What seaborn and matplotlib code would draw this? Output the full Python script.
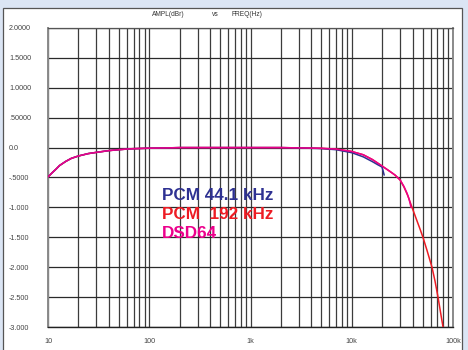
import numpy as np
import pandas as pd
import matplotlib
matplotlib.use("Agg")
import matplotlib.pyplot as plt
import seaborn as sns
from matplotlib.patches import Rectangle
from matplotlib.ticker import FixedLocator, NullFormatter

# ---- data ----
freq_low = [10, 11, 12, 13, 15, 17, 20, 25, 30, 40, 50, 65, 80, 100, 150, 200,
            500, 1000, 2000, 3000, 5000, 7000, 10000, 13000, 16000]
ampl_low = [-0.49, -0.42, -0.36, -0.30, -0.23, -0.18, -0.14, -0.10, -0.08, -0.05,
            -0.035, -0.02, -0.015, -0.01, -0.005, 0.0,
            0.0, 0.0, 0.0, -0.005, -0.012, -0.025, -0.065, -0.12, -0.20]

freq_441 = [10, 11, 12, 13, 15, 17, 20, 25, 30, 40, 50, 65, 80, 100, 150, 200,
            500, 1000, 2000, 3000, 5000, 7000, 10000, 13000, 16000, 18000,
            19900, 20400, 20900]
ampl_441 = [-0.49, -0.42, -0.36, -0.30, -0.23, -0.18, -0.14, -0.10, -0.08, -0.05,
            -0.035, -0.02, -0.015, -0.01, -0.005, 0.0,
            0.0, 0.0, 0.0, -0.006, -0.016, -0.035, -0.085, -0.155, -0.235,
            -0.285, -0.325, -0.39, -0.46]

freq_dsd = freq_low + [20000, 23900, 26800, 30000, 32800, 35100, 36800, 38500]
ampl_dsd = ampl_low + [-0.31, -0.40, -0.46, -0.54, -0.65, -0.76, -0.86, -1.0]

freq_192 = freq_low + [20000, 23900, 26800, 30000, 32800, 35900, 39400, 43100,
                       47200, 50500, 55400, 62000, 66400, 71100, 76100, 79700]
ampl_192 = ampl_low + [-0.31, -0.40, -0.46, -0.54, -0.66, -0.81, -1.0, -1.18,
                       -1.36, -1.5, -1.72, -2.0, -2.23, -2.5, -2.8, -3.0]

y_ticks = [2.0, 1.5, 1.0, 0.5, 0.0, -0.5, -1.0, -1.5, -2.0, -2.5, -3.0]
y_labels = ["2.0000", "1.5000", "1.0000", ".50000", "0.0", "-.5000",
            "-1.000", "-1.500", "-2.000", "-2.500", "-3.000"]
x_ticks = [10, 100, 1000, 10000, 100000]
x_labels = ["10", "100", "1k", "10k", "100k"]

legend_labels = ["PCM 44.1 kHz", "PCM  192 kHz", "DSD64"]
c_blue, c_red, c_mag = "#2e3192", "#ed1c24", "#ec008c"

# ---- figure ----
sns.set_style("white")
plt.rcParams["font.family"] = ["Liberation Sans", "DejaVu Sans"]

W, H = 468, 350
fig = plt.figure(figsize=(W / 100, H / 100), dpi=100)
fig.patch.set_facecolor("#dbe5f4")

# white panel
fig.patches.append(Rectangle((3 / W, -0.05), (462 - 3) / W, (H - 8) / H + 0.05,
                             transform=fig.transFigure, facecolor="white",
                             edgecolor="#555555", linewidth=0.9, zorder=-5))

ax = fig.add_axes([48 / W, 23 / H, (453 - 48) / W, (327 - 28) / H])
ax.set_zorder(2)
ax.set_facecolor("none")

for f, a, c in [(freq_192, ampl_192, c_red), (freq_441, ampl_441, c_blue),
                (freq_dsd, ampl_dsd, c_mag)]:
    sns.lineplot(x=f, y=a, ax=ax, color=c, linewidth=1.1, sort=False,
                 estimator=None, zorder=3)

ax.set_xscale("log")
ax.set_xlim(10, 100000)
ax.set_ylim(-3.0, 2.0)

# grid
minor = [m * 10 ** e for e in range(1, 5) for m in range(2, 10)]
ax.xaxis.set_minor_locator(FixedLocator(minor))
ax.xaxis.set_minor_formatter(NullFormatter())
ax.set_xticks(x_ticks)
ax.set_xticklabels(x_labels)
ax.set_yticks(y_ticks)
ax.set_yticklabels(y_labels)
ax.grid(True, which="both", axis="x", color="#3c3c3c", linewidth=0.9)
ax.grid(True, which="major", axis="y", color="#2a2a2a", linewidth=0.9)
ax.set_axisbelow(True)

ax.tick_params(axis="both", which="both", length=0, labelsize=5.2,
               labelcolor="#444444")
ax.tick_params(axis="y", pad=28)
ax.tick_params(axis="x", pad=8)
for lab in ax.get_yticklabels():
    lab.set_horizontalalignment("left")

for s in ["left", "right"]:
    ax.spines[s].set_color("#8a8a8a")
    ax.spines[s].set_linewidth(1.4)
ax.spines["top"].set_color("#555555")
ax.spines["top"].set_linewidth(0.9)
ax.spines["bottom"].set_color("#222222")
ax.spines["bottom"].set_linewidth(1.0)

# header
fig.text(152 / W, 1 - 14 / H, "AMPL(dBr)", fontsize=4.8, color="#333333",
         ha="left", va="center")
fig.text(212 / W, 1 - 14 / H, "vs", fontsize=4.8, color="#333333",
         ha="left", va="center")
fig.text(232 / W, 1 - 14 / H, "FREQ(Hz)", fontsize=4.8, color="#333333",
         ha="left", va="center")

# legend-like text
for i, (lab, c) in enumerate(zip(legend_labels, [c_blue, c_red, c_mag])):
    fig.text(162 / W, 1 - (195 + 19.5 * i) / H, lab, fontsize=12.3,
             fontweight="bold", color=c, ha="left", va="center", zorder=10)

fig.savefig("out.png", dpi=100, facecolor=fig.get_facecolor())
